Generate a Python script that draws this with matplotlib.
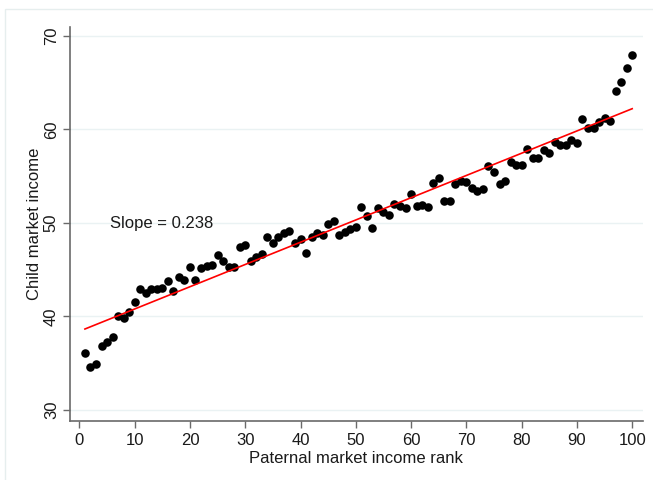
import numpy as np
import matplotlib
matplotlib.use("Agg")
import matplotlib.pyplot as plt
from matplotlib.patches import Rectangle

plt.rcParams['font.family'] = ['Liberation Sans', 'DejaVu Sans']

# paternal income rank (percentiles 1..100)
rank = np.arange(1, 101)

# mean child market income per paternal rank
child_income = [
    36.1, 34.6, 34.9, 36.8, 37.3, 37.8, 40.0, 39.8, 40.5, 41.5,
    42.9, 42.5, 42.9, 42.9, 43.0, 43.8, 42.7, 44.2, 43.9, 45.3,
    43.9, 45.2, 45.4, 45.5, 46.6, 45.9, 45.3, 45.3, 47.4, 47.6,
    45.9, 46.4, 46.7, 48.5, 47.9, 48.5, 48.9, 49.1, 47.9, 48.3,
    46.8, 48.5, 48.9, 48.7, 49.9, 50.2, 48.7, 49.0, 49.4, 49.6,
    51.7, 50.7, 49.5, 51.6, 51.2, 50.9, 52.0, 51.8, 51.6, 53.1,
    51.8, 51.9, 51.7, 54.3, 54.8, 52.4, 52.4, 54.2, 54.5, 54.4,
    53.7, 53.4, 53.6, 56.1, 55.5, 54.2, 54.5, 56.5, 56.2, 56.2,
    57.9, 57.0, 57.0, 57.8, 57.5, 58.7, 58.3, 58.3, 58.9, 58.6,
    61.1, 60.2, 60.2, 60.8, 61.2, 60.9, 64.1, 65.1, 66.6, 68.0,
]

slope_label = "Slope = 0.238"
x_ticks = [0, 10, 20, 30, 40, 50, 60, 70, 80, 90, 100]
y_ticks = [30, 40, 50, 60, 70]

fig = plt.figure(figsize=(6.53, 4.8), dpi=100)
fig.patch.set_facecolor('white')
# light outer frame of the graph region
fig.patches.append(Rectangle((5 / 653, -0.1), 1.2, 1 - 9 / 480 + 0.1,
                             transform=fig.transFigure, fill=False,
                             edgecolor='#e6eeee', linewidth=1.0))

ax = fig.add_axes([70 / 653, 1 - 421 / 480, (642.7 - 70) / 653, (421 - 26.7) / 480])

# linear fit
b, a = np.polyfit(rank, child_income, 1)
xfit = np.array([rank[0], rank[-1]])

ax.scatter(rank, child_income, s=38, color='black', zorder=3, linewidths=0)
ax.plot(xfit, a + b * xfit, color='#ff0000', linewidth=1.2, zorder=4)

ax.text(5.5, 49.9, slope_label, fontsize=12, va='center', ha='left', color='#1a1a1a')

ax.set_xlim(-1.7, 101.9)
ax.set_ylim(28.82, 70.99)
ax.set_xticks(x_ticks)
ax.set_yticks(y_ticks)
ax.grid(axis='y', color='#eaf2f3', linewidth=1.0)
ax.set_axisbelow(True)

for side in ['top', 'right']:
    ax.spines[side].set_visible(False)
for side in ['left', 'bottom']:
    ax.spines[side].set_color('#6a6a6a')
    ax.spines[side].set_linewidth(1.2)

ax.tick_params(axis='both', direction='out', length=5, width=1.0, color='#6a6a6a',
               labelsize=12, labelcolor='#1a1a1a')
ax.tick_params(axis='y', pad=3)
for lab in ax.get_yticklabels():
    lab.set_rotation(90)
    lab.set_va('center')

ax.set_xlabel('Paternal market income rank', fontsize=12, color='#1a1a1a', labelpad=2)
ax.set_ylabel('Child market income', fontsize=12, color='#1a1a1a', labelpad=1)

fig.savefig('out.png', dpi=100)
